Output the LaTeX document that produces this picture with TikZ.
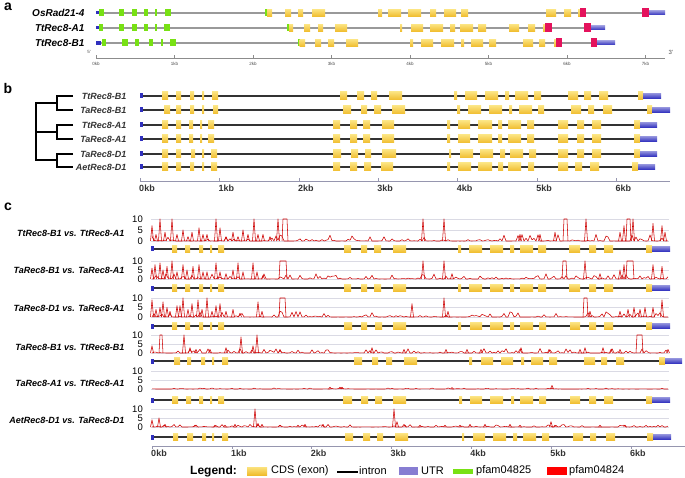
\documentclass[tikz,border=0pt]{standalone}
\usepackage{fontspec}
\setmainfont{Liberation Sans}
\definecolor{exondk}{RGB}{240,188,45}
\definecolor{exonlt}{RGB}{251,226,125}
\definecolor{pfgreen}{RGB}{120,225,20}
\definecolor{pfpink}{RGB}{228,18,92}
\definecolor{utrblue}{RGB}{48,48,190}
\definecolor{utrleg}{RGB}{135,125,210}
\definecolor{sigred}{RGB}{205,0,0}
\definecolor{gridc}{RGB}{218,218,228}
\definecolor{axc}{RGB}{150,150,175}
% exon boxes: y, half height, list x1/x2
\newcommand{\exons}[3]{%
  \foreach \xa/\xb in {#3}{\shade[exon] (\xa,#1-#2) rectangle (\xb,#1+#2);}}
\newcommand{\boxes}[4]{%
  \foreach \xa/\xb in {#4}{\fill[#1] (\xa,#2-#3) rectangle (\xb,#2+#3);}}
% gene model: x0, y, half height, exons, utr from, utr to
\newcommand{\genemodel}[6]{%
  \draw[intron] (#1,#2) -- (#6,#2);
  \fill[utrblue] (#1,#2-2.5) rectangle (#1+2.5,#2+2.5);
  \exons{#2}{#3}{#4}
  \shade[utr] (#5,#2-2.5) rectangle (#6,#2+2.5);}
% divergence track: y0, height of 10, seed, noise, peaks x/h
\newcommand{\track}[5]{%
  \foreach \g in {0,0.5,1}{\draw[grid] (151,#1-\g*#2) -- (669,#1-\g*#2);}
  \node[ylab] at (143,#1-#2) {10};
  \node[ylab] at (143,#1-0.5*#2) {5};
  \node[ylab] at (143,#1) {0};
  \pgfmathsetseed{#3}
  \draw[sig] plot[domain=152:668,samples=259] (\x,{#1-#2*#4*rnd^6/10});
  \foreach \px/\ph in {#5}{\draw[sig] (\px-1.5,#1) -- (\px,{#1-#2*min(\ph,10)/10}) -- (\px+1.5,#1);}}
\newcommand{\plateaus}[3]{%
  \foreach \pa/\pb in {#3}{\draw[sig] (\pa-1,#1) -- (\pa,#1-#2) -- (\pb,#1-#2) -- (\pb+1,#1);}}

\begin{document}
\begin{tikzpicture}[x=1pt,y=-1pt,
  panel/.style={font=\fontsize{14}{14}\selectfont\bfseries},
  aname/.style={anchor=east,font=\fontsize{10}{12}\selectfont\bfseries\itshape},
  bname/.style={anchor=east,text=black!80,font=\fontsize{9}{11}\selectfont\bfseries\itshape},
  cname/.style={anchor=east,font=\fontsize{9}{11}\selectfont\bfseries\itshape},
  ylab/.style={anchor=east,inner sep=0pt,font=\fontsize{9.5}{10}\selectfont},
  kb/.style={font=\fontsize{9}{10}\selectfont\bfseries,text=black!80},
  tinylab/.style={font=\fontsize{4.5}{5}\selectfont,text=black!70},
  legtext/.style={anchor=west,inner sep=0pt,font=\fontsize{11}{12}\selectfont},
  exon/.style={top color=exonlt,bottom color=exondk},
  utr/.style={top color=utrblue!55!white,bottom color=utrblue},
  intron/.style={line width=1.3pt,black!80},
  introna/.style={line width=1.2pt,black!40},
  grid/.style={gridc,line width=0.6pt},
  sig/.style={sigred,line width=0.55pt,line join=round},
  tree/.style={line width=1.4pt}]
\useasboundingbox (0,0) rectangle (685,478);

% ---------------- a
\node[panel] (pa) at (8,7) {a};
\node[aname] (os) at (88,13) {OsRad21-4};
\node[aname] (tta) at (88,28) {TtRec8-A1};
\node[aname] (ttb) at (88,43) {TtRec8-B1};
% OsRad21-4
\draw[introna] (96,13) -- (649,13);
\fill[utrblue] (96,11.5) rectangle (98.5,14.5);
\boxes{pfgreen}{13}{3.5}{99/104, 119/124, 132/137, 144/148, 155/156.5, 165/171, 265/267}
\exons{13}{3.5}{267/272, 285/291, 298/303, 312/325, 378/382, 388/401, 408/421, 430/436, 444/456, 461/468, 546/556, 564/571, 578/580}
\boxes{pfpink}{13}{4.5}{580/586, 642/649}
\shade[utr] (649,11) rectangle (665,15);
% TtRec8-A1
\draw[introna] (96,28) -- (591,28);
\fill[utrblue] (96,26.5) rectangle (98.5,29.5);
\boxes{pfgreen}{28}{3.5}{99/103, 119/124, 132/137, 144/148, 155/156.5, 164/170, 287/289}
\exons{28}{3.5}{289/293, 304/310, 318/323, 335/347, 400/402, 411/423, 430/443, 450/455, 460/473, 478/486, 509/519, 528/535, 543/545}
\boxes{pfpink}{28}{4.5}{545/552, 584/591}
\shade[utr] (591,26) rectangle (605,30);
% TtRec8-B1
\draw[introna] (96,43) -- (597,43);
\fill[utrblue] (96,41) rectangle (101,45);
\boxes{pfgreen}{43}{3.5}{102/106, 122/128, 135/139, 149/153, 161/162.5, 170/176, 298/299.5}
\exons{43}{3.5}{299.5/305, 315/321, 328/334, 346/358, 410/413, 421/433, 441/454, 461/464, 471/483, 489/496, 523/533, 539/545, 554/556}
\boxes{pfpink}{43}{4.5}{556/562, 591/597}
\shade[utr] (597,41) rectangle (615,45);
% scale
\draw[black!45,line width=0.8pt] (96,58) -- (665,58);
\foreach \k in {0,...,7}{
  \draw[black!45,line width=0.6pt] (96+78.5*\k,58) -- (96+78.5*\k,55);
  \node[tinylab] at (96+78.5*\k,64) {\k{}kb};}
\node[tinylab] (p5) at (89,52) {5'};
\node[tinylab,font=\fontsize{6}{6}\selectfont] (p3) at (671,52) {3'};

% ---------------- b
\node[panel] (pb) at (8,88) {b};
\node[bname] (b1) at (130,96) {TtRec8-B1};
\node[bname] (b2) at (130,110) {TaRec8-B1};
\node[bname] (b3) at (130,125) {TtRec8-A1};
\node[bname] (b4) at (130,139) {TaRec8-A1};
\node[bname] (b5) at (130,154) {TaRec8-D1};
\node[bname] (b6) at (130,167) {AetRec8-D1};
% tree
\foreach \n/\y in {1/96,2/110,3/125,4/139,5/154,6/167}{\coordinate (tip\n) at (73,\y);}
\coordinate (nB) at (57,103);
\coordinate (nA) at (57,132);
\coordinate (nD) at (57,160);
\coordinate (rB) at (36,103);
\coordinate (rA) at (36,132);
\coordinate (rD) at (36,160);
\draw[tree] (tip1) -| (nB) |- (tip2);
\draw[tree] (tip3) -| (nA) |- (tip4);
\draw[tree] (tip5) -| (nD) |- (tip6);
\draw[tree] (nB) -- (rB) -- (rD) -- (nD);
\draw[tree] (rA) -- (nA);
% gene models
\genemodel{140}{96}{4}{162/168, 176/181, 190/194, 202/204, 212/218, 340/347, 357/364, 371/377, 389/402, 454/457, 465/477, 485/498, 505/509, 515/528, 534/541, 568/578, 584/591, 599/608, 638/643}{643}{661}
\genemodel{140}{110}{4}{164/170, 176/181, 190/194, 202/204, 213/218, 343/351, 361/367, 374/381, 392/405, 457/460, 468/481, 489/502, 509/512, 519/532, 538/544, 571/581, 588/594, 603/612, 647/652}{652}{670}
\genemodel{140}{125}{4}{162/168, 176/181, 189/193, 200/202, 208/214, 333/340, 350/357, 363/370, 382/394, 447/450, 458/470, 478/492, 498/502, 508/521, 527/534, 558/568, 577/584, 592/601, 634/640}{640}{657}
\genemodel{140}{139}{4}{162/168, 176/181, 189/193, 200/202, 208/214, 333/340, 350/357, 363/370, 382/394, 447/450, 458/470, 478/492, 498/502, 508/521, 527/534, 558/568, 577/584, 592/601, 634/640}{640}{657}
\genemodel{140}{154}{4}{162/168, 176/181, 191/195, 202/204, 211/217, 333/341, 351/358, 365/371, 382/396, 449/451, 460/473, 480/493, 500/505, 510/523, 529/536, 558/568, 577/584, 592/601, 634/640}{640}{657}
\genemodel{140}{167}{4}{162/168, 176/181, 190/194, 202/204, 211/217, 333/340, 350/357, 364/371, 381/393, 447/450, 458/471, 478/492, 498/503, 508/521, 528/534, 558/568, 575/582, 590/599, 632/638}{638}{655}
% scale
\draw[axc,line width=0.8pt] (140,181) -- (670,181);
\foreach \k in {0,...,6}{
  \draw[axc,line width=0.6pt] (140+79.4*\k,181) -- (140+79.4*\k,178);
  \node[kb] at (147+79.4*\k,188) {\k{}kb};}

% ---------------- c
\node[panel] (pc) at (8,207) {c};
\node[cname] (c1) at (128,233) {TtRec8-B1 vs. TtRec8-A1};
\node[cname] (c2) at (128,270) {TaRec8-B1 vs. TaRec8-A1};
\node[cname] (c3) at (128,308) {TaRec8-D1 vs. TaRec8-A1};
\node[cname] (c4) at (128,347) {TaRec8-B1 vs. TtRec8-B1};
\node[cname] (c5) at (128,383) {TaRec8-A1 vs. TtRec8-A1};
\node[cname] (c6) at (128,420) {AetRec8-D1 vs. TaRec8-D1};
% tracks
\track{241}{22}{11}{3}{152/7, 156/3, 160/10, 165/4, 172/10, 177/3, 183/5, 188/2, 192/4, 199/6, 203/3, 207/3, 216/10, 220/6, 226/2, 233/4, 238/2, 243/5, 248/3, 254/10, 258/3, 263/3, 270/2, 278/10, 423/10, 444/10, 520/3, 540/3, 555/4, 586/10, 620/4, 624/7, 633/10, 653/8, 662/7, 665/4}
\plateaus{241}{22}{283/287, 564/567, 627/630}
\track{279}{18}{23}{3}{152/6, 155/8, 160/9, 163/5, 167/7, 172/10, 177/4, 183/8, 187/5, 193/7, 199/8, 203/4, 207/4, 216/9, 220/4, 226/3, 233/5, 238/9, 243/4, 253/9, 257/4, 263/2, 423/10, 444/10, 452/3, 585/10, 600/3, 620/5, 624/8, 653/8, 662/7}
\plateaus{279}{18}{280/286, 563/566, 627/633}
\track{317}{19}{37}{3}{152/9, 156/4, 160/5, 163/8, 167/5, 170/3, 177/6, 180/6, 183/10, 188/4, 192/7, 198/9, 202/4, 207/10, 212/3, 216/6, 220/7, 226/3, 233/4, 240/2, 258/8, 262/3, 412/7, 444/10, 448/3, 590/3, 620/3, 628/4, 634/5, 640/4, 645/5, 653/5, 662/9}
\plateaus{317}{19}{280/285, 584/587}
\track{353}{18}{41}{2.5}{152/4, 184/10, 190/3, 196/2, 210/2, 226/3, 241/9, 253/4, 257/10, 280/2, 372/3, 404/2, 446/2, 467/2, 481/2, 521/3, 549/2, 580/2, 585/3, 603/3, 611/2, 620/2, 668/2}
\plateaus{353}{18}{160/162, 637/642}
\track{389}{18}{53}{0.6}{330/1, 340/1, 342/1, 452/0.8, 552/2}
\track{427}{18}{67}{1.5}{152/4, 159/5, 165/1.5, 195/1, 215/1, 225/1, 235/1.5, 255/10, 258/2, 262/1.5, 280/1, 298/1, 305/1.5, 323/1.5, 394/10, 397/3, 405/1, 420/1, 445/1, 460/1, 470/1.5, 485/1.5, 510/1.5, 520/1, 551/3, 555/1, 600/1, 625/1}
% gene models
\genemodel{151}{249}{3.5}{172/177, 185/190, 199/203, 210/212, 218/224, 344/351, 361/367, 374/381, 393/406, 458/461, 469/482, 490/503, 510/514, 520/533, 538/546, 569/580, 589/596, 604/613, 646/652}{652}{670}
\genemodel{151}{288}{3.5}{172/177, 185/190, 199/203, 210/212, 218/224, 344/351, 361/367, 374/381, 393/406, 458/461, 469/482, 490/503, 510/514, 520/533, 538/546, 569/580, 589/596, 604/613, 646/652}{652}{670}
\genemodel{151}{326}{3.5}{172/177, 185/190, 199/203, 210/212, 218/224, 344/352, 361/367, 375/382, 393/406, 458/461, 470/482, 490/503, 510/514, 520/533, 539/546, 570/580, 589/596, 604/613, 646/652}{652}{670}
\genemodel{151}{361}{3.5}{174/180, 187/191, 201/205, 212/214, 222/228, 354/362, 372/378, 386/392, 404/417, 469/472, 481/493, 501/513, 521/524, 531/543, 549/557, 584/595, 601/607, 616/624, 659/665}{665}{682}
\genemodel{151}{400}{3.5}{172/178, 186/191, 199/203, 210/212, 218/224, 343/352, 361/368, 375/382, 393/406, 459/462, 470/482, 490/503, 511/514, 520/533, 539/546, 570/580, 589/596, 604/613, 646/652}{652}{670}
\genemodel{151}{437}{3.5}{173/178, 187/193, 202/206, 212/214, 222/228, 345/353, 363/370, 377/383, 395/408, 462/464, 473/485, 493/506, 513/517, 523/536, 542/549, 573/583, 590/596, 606/615, 647/653}{653}{671}
% scale
\draw[axc,line width=0.8pt] (152,446) -- (685,446);
\foreach \k in {0,...,6}{
  \draw[axc,line width=0.6pt] (152+79.8*\k,446) -- (152+79.8*\k,449);
  \node[kb] at (159+79.8*\k,453) {\k{}kb};}

% ---------------- legend
\node[legtext,font=\fontsize{12}{13}\selectfont\bfseries] (leg) at (190,471) {Legend:};
\shade[exon] (247,467) rectangle (267,475);
\node[legtext] (lcds) at (271,471) {CDS (exon)};
\draw[black,line width=1.6pt] (337,472) -- (358,472);
\node[legtext] (lint) at (359,471) {intron};
\fill[utrleg] (399,467) rectangle (418,475);
\node[legtext] (lutr) at (421,471) {UTR};
\fill[pfgreen] (453,468.5) rectangle (473,473.5);
\node[legtext] (lg) at (476,471) {pfam04825};
\fill[red] (547,467) rectangle (567,475);
\node[legtext] (lr) at (569,471) {pfam04824};
\end{tikzpicture}
\end{document}
